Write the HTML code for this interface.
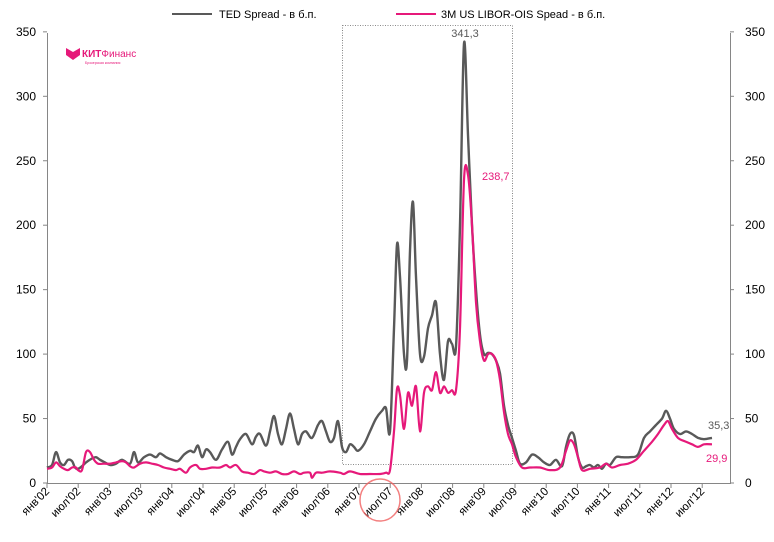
<!DOCTYPE html>
<html><head><meta charset="utf-8"><style>
body{margin:0;background:#fff;}
svg{display:block;font-family:"Liberation Sans",Arial,sans-serif;}
</style></head><body>
<svg id="s" width="774" height="542" viewBox="0 0 774 542" xmlns="http://www.w3.org/2000/svg">
<rect width="774" height="542" fill="#fff"/>
<g id="ax" stroke="#868686" stroke-width="1" fill="none"></g>
<g id="lbl" font-size="12" fill="#000"></g>
<rect x="342.5" y="25.5" width="170" height="439" fill="none" stroke="#666" stroke-width="0.8" stroke-dasharray="1,1.5"/>
<path id="ted" fill="none" stroke="#595959" stroke-width="2.4" stroke-linejoin="round"/>
<path id="lib" fill="none" stroke="#E6197A" stroke-width="2.2" stroke-linejoin="round"/>
<line x1="172" y1="14" x2="212" y2="14" stroke="#595959" stroke-width="2"/>
<text x="219" y="18" font-size="11">TED Spread - в б.п.</text>
<line x1="396" y1="14" x2="436" y2="14" stroke="#E6197A" stroke-width="2"/>
<text x="441" y="18" font-size="11">3M US LIBOR-OIS Spead - в б.п.</text>
<text x="465" y="37" font-size="11" fill="#595959" text-anchor="middle">341,3</text>
<text x="482" y="180" font-size="11" fill="#E6197A">238,7</text>
<text x="708" y="429" font-size="11" fill="#595959">35,3</text>
<text x="706" y="462" font-size="11" fill="#E6197A">29,9</text>
<ellipse cx="380" cy="500" rx="20" ry="21" fill="none" stroke="#F06060" stroke-width="1.5" opacity="0.8"/>
<path d="M66 48 L73 52 L80 48 L80 55 L73 60 L66 55Z" fill="#E6197A"/>
<text x="82" y="57" font-size="10" font-weight="bold" fill="#E6197A">КИТ<tspan font-weight="normal">Финанс</tspan></text>
<text x="85" y="64" font-size="3.5" fill="#E6197A">Брокерская компания</text>
</svg>
<script>
var Y=function(v){return 483-v*1.289;};
var ted=[[47,12],[52,14],[56,24],[60,16],[64,14],[68,18],[72,17],[75,12],[78,11],[82,13],[86,16],[92,19],[96,20],[100,18],[105,16],[110,14],[116,15],[122,18],[130,15],[134,24],[138,16],[144,20],[150,22],[156,20],[160,23],[166,20],[172,18],[178,17],[184,22],[190,25],[194,24],[198,29],[202,20],[206,26],[210,24],[216,18],[222,26],[228,32],[232,22],[236,28],[240,34],[246,38],[252,30],[256,36],[260,38],[266,29],[270,40],[274,52],[278,38],[282,30],[286,42],[290,54],[294,42],[298,30],[302,38],[306,40],[312,35],[318,45],[322,48],[326,40],[330,32],[334,35],[338,48],[342,28],[346,24],[350,30],[354,28],[358,25],[364,30],[370,40],[376,50],[382,56],[386,58],[390,40],[394,120],[397,185],[400,160],[404,100],[407,95],[410,180],[413,218],[416,160],[420,100],[424,98],[428,120],[432,130],[436,140],[440,100],[444,80],[448,110],[452,108],[456,106],[460,200],[464,341],[468,270],[472,200],[476,150],[480,115],[484,100],[488,101],[492,100],[496,95],[500,85],[504,60],[508,45],[512,35],[516,25],[520,15],[526,16],[532,22],[538,20],[544,16],[550,14],[556,18],[562,13],[566,28],[570,38],[574,37],[578,20],[582,12],[586,13],[590,14],[594,12],[598,14],[602,11],[606,15],[610,14],[616,20],[622,20],[630,20],[638,22],[644,35],[650,40],[656,45],[662,50],[666,56],[670,50],[674,42],[680,38],[686,40],[692,38],[698,35],[704,34],[712,35]];
var lib=[[47,11],[52,12],[56,16],[60,13],[64,11],[68,10],[72,12],[76,12],[78,10],[82,10],[86,24],[90,24],[94,18],[98,15],[104,15],[110,15],[116,16],[122,17],[126,16],[130,13],[134,12],[140,15],[146,16],[152,15],[158,14],[164,12],[170,11],[176,10],[180,11],[186,8],[190,12],[196,14],[200,11],[206,11],[212,12],[220,12],[226,14],[230,12],[236,14],[242,9],[248,8],[254,7],[260,10],[264,9],[270,8],[276,9],[282,7],[288,7],[294,9],[300,7],[304,8],[310,8],[312,4],[316,8],[322,8],[330,9],[340,8],[344,7],[350,9],[360,7],[370,7],[380,7],[386,8],[390,10],[394,40],[397,73],[400,68],[404,42],[408,70],[412,60],[416,75],[420,40],[424,70],[428,75],[432,72],[436,86],[440,70],[444,75],[448,70],[452,72],[456,72],[460,120],[464,235],[468,239],[472,200],[476,140],[480,110],[484,95],[488,100],[492,100],[496,95],[500,80],[504,55],[508,38],[512,30],[516,20],[522,12],[530,12],[540,12],[550,10],[560,12],[566,25],[570,33],[574,30],[578,20],[582,10],[590,11],[600,12],[606,15],[612,12],[620,14],[628,15],[636,18],[644,25],[652,32],[658,38],[664,45],[668,48],[672,42],[678,35],[686,32],[692,30],[698,28],[704,30],[712,30]];
function path(a){var p=a.map(function(q){return [q[0],Y(q[1])]});var d="M"+p[0][0]+","+p[0][1].toFixed(1);
for(var i=0;i<p.length-1;i++){var p0=p[Math.max(i-1,0)],p1=p[i],p2=p[i+1],p3=p[Math.min(i+2,p.length-1)];
var c1x=p1[0]+(p2[0]-p0[0])/6,c1y=p1[1]+(p2[1]-p0[1])/6,c2x=p2[0]-(p3[0]-p1[0])/6,c2y=p2[1]-(p3[1]-p1[1])/6;
d+=" C"+c1x.toFixed(1)+","+c1y.toFixed(1)+" "+c2x.toFixed(1)+","+c2y.toFixed(1)+" "+p2[0]+","+p2[1].toFixed(1);}return d;}
document.getElementById("ted").setAttribute("d",path(ted));
document.getElementById("lib").setAttribute("d",path(lib));
var ax=document.getElementById("ax"),lb=document.getElementById("lbl"),h="",t="";
h+='<line x1="47.5" y1="33" x2="47.5" y2="483"/><line x1="730.5" y1="33" x2="730.5" y2="483"/><line x1="47" y1="483.5" x2="731" y2="483.5"/>';
for(var v=0;v<=350;v+=50){var y=Y(v);h+='<line x1="43" y1="'+y+'" x2="47" y2="'+y+'"/><line x1="730" y1="'+y+'" x2="734" y2="'+y+'"/>';
t+='<text x="36" y="'+(y+4)+'" text-anchor="end">'+v+'</text><text x="745" y="'+(y+4)+'">'+v+'</text>';}
var mo=["янв","июл"];
for(var i=0;i<22;i++){var x=47+i*31.2;h+='<line x1="'+x+'" y1="483" x2="'+x+'" y2="488"/>';
var yr=2+Math.floor(i/2);var s=mo[i%2]+"'"+(yr<10?"0":"")+yr;
t+='<text transform="translate('+(x+3)+',492) rotate(-45)" text-anchor="end" font-size="11.5">'+s+'</text>';}
ax.innerHTML=h;lb.innerHTML=t;
</script>
</body></html>
